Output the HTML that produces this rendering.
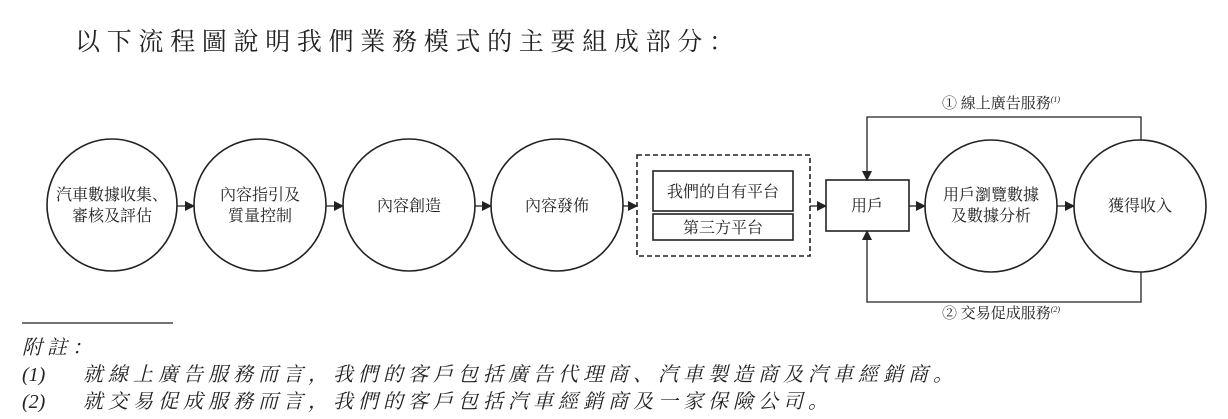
<!DOCTYPE html>
<html><head><meta charset="utf-8"><style>
html,body{margin:0;padding:0;background:#fff;}
svg{display:block;}
text{font-family:"Liberation Serif","Noto Serif CJK SC",serif;fill:#222;}
</style></head><body>
<svg width="1228" height="419" viewBox="0 0 1228 419" xmlns="http://www.w3.org/2000/svg">
<defs><marker id="a" markerWidth="10" markerHeight="10" refX="9" refY="5" orient="auto" markerUnits="userSpaceOnUse"><path d="M0,0 L10,5 L0,10 Z" fill="#222"/></marker></defs>
<text x="75" y="50" font-size="25" letter-spacing="6.7">以下流程圖說明我們業務模式的主要組成部分：</text>
<g fill="none" stroke="#222" stroke-width="1.6">
<ellipse cx="112" cy="205" rx="65" ry="66"/>
<ellipse cx="260" cy="205" rx="66" ry="66"/>
<ellipse cx="409" cy="205" rx="66" ry="66"/>
<ellipse cx="557" cy="205" rx="66" ry="66"/>
<rect x="637" y="155" width="173" height="101" stroke-dasharray="5,3"/>
<rect x="653" y="171" width="140" height="40"/>
<rect x="653" y="214" width="140" height="26"/>
<rect x="826" y="180" width="83" height="51"/>
<ellipse cx="991" cy="206" rx="66" ry="66"/>
<ellipse cx="1140" cy="206" rx="66" ry="66"/>
</g>
<g stroke="#222" stroke-width="1.3" marker-end="url(#a)">
<line x1="177" y1="206" x2="194" y2="206"/>
<line x1="326" y1="206" x2="343" y2="206"/>
<line x1="475" y1="206" x2="491" y2="206"/>
<line x1="623" y1="206" x2="637" y2="206"/>
<line x1="810" y1="206" x2="826" y2="206"/>
<line x1="909" y1="206" x2="925" y2="206"/>
<line x1="1057" y1="206" x2="1074" y2="206"/>
<polyline fill="none" points="1141,140 1141,117 867,117 867,180"/>
<polyline fill="none" points="1141,272 1141,302 867,302 867,231"/>
</g>
<g font-size="16" text-anchor="middle">
<text x="112" y="200">汽車數據收集、</text><text x="112" y="221">審核及評估</text>
<text x="260" y="200">內容指引及</text><text x="260" y="221">質量控制</text>
<text x="409" y="211">內容創造</text>
<text x="557" y="211">內容發佈</text>
<text x="723" y="197">我們的自有平台</text>
<text x="723" y="233">第三方平台</text>
<text x="867" y="211">用戶</text>
<text x="991" y="200">用戶瀏覽數據</text><text x="991" y="221">及數據分析</text>
<text x="1140" y="211">獲得收入</text>
</g>
<g font-size="15">
<text x="942" y="108">① 線上廣告服務<tspan font-size="8" dy="-6" font-style="italic">(1)</tspan></text>
<text x="942" y="318">② 交易促成服務<tspan font-size="8" dy="-6" font-style="italic">(2)</tspan></text>
</g>
<line x1="22" y1="323" x2="173" y2="323" stroke="#222" stroke-width="1.2"/>
<g font-size="20" font-style="italic" letter-spacing="5">
<text x="22" y="354">附註：</text>
<text x="22" y="381" letter-spacing="0">(1)</text>
<text x="83" y="381">就線上廣告服務而言，我們的客戶包括廣告代理商、汽車製造商及汽車經銷商。</text>
<text x="22" y="408" letter-spacing="0">(2)</text>
<text x="83" y="408">就交易促成服務而言，我們的客戶包括汽車經銷商及一家保險公司。</text>
</g>
</svg>
</body></html>
